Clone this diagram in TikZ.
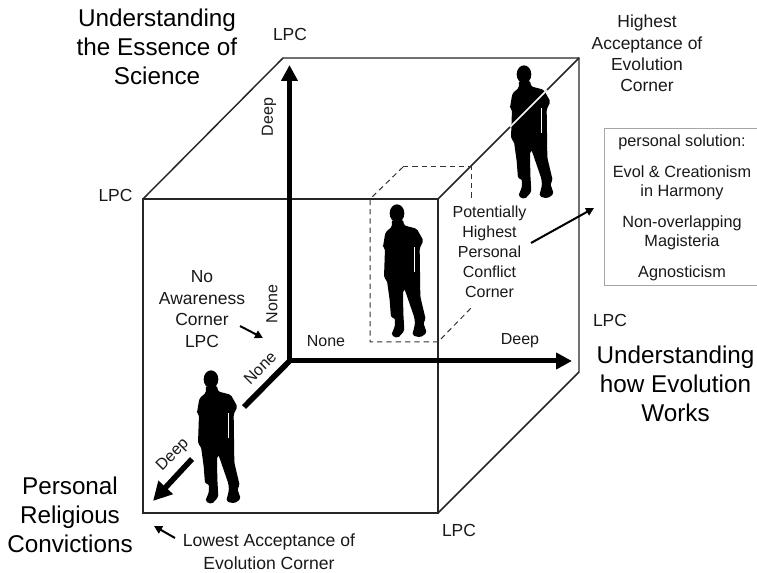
\documentclass[tikz,border=0pt]{standalone}
\usepackage{fontspec}
\setmainfont{Liberation Sans}
\usetikzlibrary{arrows.meta}
\tikzset{
  x=0.75pt,y=-0.75pt,
  cubeedge/.style={draw=black!85,line width=1.1pt},
  dashededge/.style={draw=black!80,line width=0.75pt,dash pattern=on 4pt off 3pt},
  axis/.style={draw=black,line width=3.75pt},
  axishead/.style={-{Triangle[length=12pt,width=12pt]}},
  depthaxis/.style={draw=black,line width=4.2pt},
  depthhead/.style={-{Triangle[length=14pt,width=14pt]}},
  thinarrow/.style={draw=black,line width=1.5pt,-{Triangle[length=6pt,width=6pt]}},
  lab/.style={font=\fontsize{12}{16}\selectfont,align=center,inner sep=0pt,text=black!90},
  cornerlab/.style={font=\fontsize{13.1}{16.1}\selectfont,align=center,inner sep=0pt,text=black!90},
  biglab/.style={font=\fontsize{18.2}{21.9}\selectfont,align=center,inner sep=0pt,text=black},
  boxlab/.style={font=\fontsize{12.2}{14.3}\selectfont,align=center,inner sep=0pt,text=black!90},
  personfig/.pic={
    \begin{scope}[x=.25pt,y=-.25pt,shift={(-170,-522)}]
      \fill[black] (170,520) ellipse [x radius=22,y radius=27];
      \filldraw[black,line width=1pt,rounded corners=1.2pt] (157,540) -- (156,562) -- (137,578) -- (130,620)
        -- (136,625) -- (133,712) -- (142,722) -- (150,780) -- (154,832) -- (165,832)
        -- (166,858) -- (155,885) -- (172,892) -- (190,872) -- (187,820) -- (186,752)
        -- (194,745) -- (224,832) -- (226,852) -- (218,885) -- (240,890) -- (257,878)
        -- (247,848) -- (254,838) -- (238,770) -- (236,625) -- (247,602) -- (228,568)
        -- (190,558) -- (186,540) -- cycle;
      \draw[white,line width=.6pt] (222,622) -- (222,695);
    \end{scope}
  }
}
\begin{document}
\begin{tikzpicture}
\useasboundingbox (0,0) rectangle (757,573);
\fill[white] (0,0) rectangle (757,573);
% cube corners
\coordinate (ftl) at (143,199);
\coordinate (ftr) at (438,199);
\coordinate (fbl) at (143,513);
\coordinate (fbr) at (438,513);
\coordinate (btl) at (283,58);
\coordinate (btr) at (579,58);
\coordinate (bbr) at (579,372);
\coordinate (o) at (289.500,361);
\coordinate (ytip) at (289.500,65);
\coordinate (xtip) at (572,361);
\coordinate (zbreak1) at (244,407);
\coordinate (zbreak2) at (192,459);
\coordinate (ztip) at (153,501);
% cube
\draw[cubeedge] (ftl) -- (ftr) -- (fbr) -- (fbl) -- cycle;
\draw[cubeedge] (ftl) -- (btl) -- (btr) -- (bbr) -- (fbr);
\draw[cubeedge] (ftr) -- (btr);
% dashed cube
\coordinate (da) at (370,199);
\coordinate (db) at (370,342);
\coordinate (dc) at (438,342);
\coordinate (dd) at (471,308);
\coordinate (dd2) at (471,305);
\coordinate (de) at (403,167);
\coordinate (df) at (471,167);
\coordinate (dg) at (471,200);
\draw[dashededge] (de) -- (da) -- (db) -- (dc) -- (dd) -- (dd2);
\draw[dashededge] (de) -- (df) -- (dg);
% axes
\draw[depthaxis,line cap=butt] (o) -- (zbreak1);
\draw[depthaxis,depthhead] (zbreak2) -- (ztip);
\draw[axis,axishead] (o) -- (ytip);
\draw[axis,axishead] (o) -- (xtip);
% people
\pic at (211,380) {personfig};
\pic at (397,214) {personfig};
\pic at (524,75) {personfig};
\coordinate (wa) at (547,90);
\coordinate (wb) at (510,127);
\draw[white,line width=1.1pt] (wa) -- (wb);
% labels
\node[biglab] (essence) at (157,47) {Understanding\\the Essence of\\Science};
\node[biglab] (works) at (675.500,384) {Understanding\\how Evolution\\Works};
\node[biglab] (religious) at (70,515) {Personal\\Religious\\Convictions};
\node[cornerlab] (lpca) at (290,34) {LPC};
\node[cornerlab] (lpcb) at (115.500,195) {LPC};
\node[cornerlab] (lpcc) at (610,320) {LPC};
\node[cornerlab] (lpcd) at (459,530) {LPC};
\node[lab,rotate=90] (deepy) at (269,117) {Deep};
\node[lab,rotate=90] (noney) at (272,304) {None};
\node[lab] (nonex) at (326,341) {None};
\node[lab] (deepx) at (520,341) {Deep};
\node[lab,rotate=45] (nonez) at (260,368) {None};
\node[lab,rotate=45] (deepz) at (173,455) {Deep};
\node[cornerlab] (aware) at (202,309) {No\\Awareness\\Corner\\LPC};
\node[cornerlab] (highest) at (647,53.500) {Highest\\Acceptance of\\Evolution\\Corner};
\node[lab,font=\fontsize{12}{15}\selectfont] (conflict) at (489.500,252) {Potentially\\Highest\\Personal\\Conflict\\Corner};
\node[cornerlab,font=\fontsize{13.2}{17}\selectfont] (lowest) at (269,551.500) {Lowest Acceptance of\\Evolution Corner};
% solution box
\draw[draw=black!35,line width=.75pt] (757,129) -- (604,129) -- (604,286) -- (757,286);
\node[boxlab] (sol) at (682,142) {personal solution:};
\node[boxlab] (harm) at (682,182.500) {Evol \& Creationism\\in Harmony};
\node[boxlab] (magi) at (682,232.500) {Non-overlapping\\Magisteria};
\node[boxlab] (agno) at (682,273) {Agnosticism};
% small arrows
\coordinate (a1s) at (531,243);
\coordinate (a1e) at (594,208);
\coordinate (a2s) at (240,326);
\coordinate (a2e) at (263,338);
\coordinate (a3s) at (175,538);
\coordinate (a3e) at (154,526);
\draw[thinarrow] (a1s) -- (a1e);
\draw[thinarrow] (a2s) -- (a2e);
\draw[thinarrow] (a3s) -- (a3e);
\end{tikzpicture}
\end{document}
